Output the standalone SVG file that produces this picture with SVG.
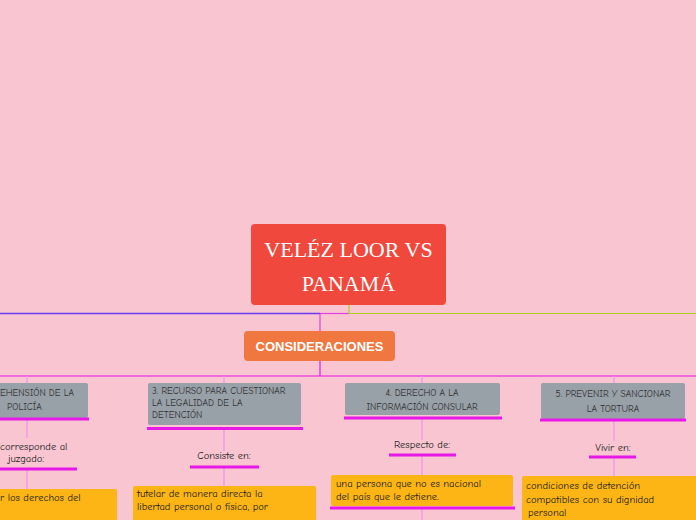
<svg xmlns="http://www.w3.org/2000/svg" width="696" height="520" viewBox="0 0 696 520">
<style>
.g{fill:#98a0a8}
.o{fill:#fdb515}
.t{font-family:"Comic Neue","Liberation Sans",sans-serif;font-size:9.5px;fill:#333}
.s{font-family:"Comic Neue","Liberation Sans",sans-serif;font-size:10.5px;fill:#222}
.u{stroke:#e619e6;stroke-width:3;fill:none}
.c{stroke:#f090f0;stroke-width:1.2;fill:none}
</style>
<rect width="696" height="520" fill="#f9c5d1"/>
<g id="connectors" fill="none">
<path d="M0 313.5H320" stroke="#6a3cf0" stroke-width="1.5"/>
<path d="M320 313.5H349" stroke="#e040e0" stroke-width="1.2"/>
<path d="M349 305V313.5H696" stroke="#a8d020" stroke-width="1.2"/>
<path d="M320 313.5V331" stroke="#e040e0" stroke-width="1.2"/>
<path d="M320 361V376M0 376H696" stroke="#e619e6" stroke-width="1.2"/>
<path class="c" d="M27 376V383M224 376V383M422 376V383M614 376V383"/>
<path class="c" d="M27 419V438M27 469V489M224 429V451M224 467V486M422 418V440M422 455V475M422 508V520M614 420V441M614 457V476"/>
</g>
<g id="title">
<rect x="251" y="224" width="195" height="81" rx="4" fill="#f0483c"/>
<text x="348.5" y="257" text-anchor="middle" font-family="Liberation Serif,serif" font-size="22" fill="#fff">VELÉZ LOOR VS</text>
<text x="348.5" y="291" text-anchor="middle" font-family="Liberation Serif,serif" font-size="22" fill="#fff">PANAMÁ</text>
</g>
<g id="consideraciones">
<rect x="244" y="331" width="151" height="30" rx="4" fill="#f07840"/>
<text x="319.5" y="351" text-anchor="middle" font-family="Liberation Sans,sans-serif" font-weight="bold" font-size="13" fill="#fff">CONSIDERACIONES</text>
</g>
<g id="n2">
<rect class="g" x="-10" y="383" width="98" height="35" rx="2"/>
<text class="t" x="0" y="396">EHENSIÓN DE LA</text>
<text class="t" x="7" y="410">POLICÍA</text>
<path class="u" d="M0 419H89"/>
<text class="s" x="0" y="450">corresponde al</text>
<text class="s" x="8" y="462">juzgado:</text>
<path class="u" d="M0 469H77"/>
<rect class="o" x="-10" y="489" width="127" height="40" rx="2"/>
<text class="s" x="0" y="501">r los derechos del</text>
</g>
<g id="n3">
<rect class="g" x="148" y="383" width="153" height="42" rx="2"/>
<text class="t" x="152" y="394" font-size="8.5">3. RECURSO PARA CUESTIONAR</text>
<text class="t" x="152" y="406" font-size="8.5">LA LEGALIDAD DE LA</text>
<text class="t" x="152" y="418" font-size="8.5">DETENCIÓN</text>
<path class="u" d="M147 428.5H303"/>
<text class="s" x="224" y="459" text-anchor="middle">Consiste en:</text>
<path class="u" d="M190 467H259"/>
<rect class="o" x="133" y="486" width="183" height="40" rx="2"/>
<text class="s" x="137" y="497">tutelar de manera directa  la</text>
<text class="s" x="137" y="510">libertad personal o física, por</text>
</g>
<g id="n4">
<rect class="g" x="345" y="383" width="155" height="32" rx="2"/>
<text class="t" x="422" y="396" text-anchor="middle">4. DERECHO A LA</text>
<text class="t" x="422" y="410" text-anchor="middle">INFORMACIÓN CONSULAR</text>
<path class="u" d="M344 418H502"/>
<text class="s" x="422" y="448" text-anchor="middle" font-size="9">Respecto de:</text>
<path class="u" d="M389 455H456"/>
<rect class="o" x="331" y="475" width="182" height="31" rx="2"/>
<text class="s" x="336" y="487">una persona que no es nacional</text>
<text class="s" x="336" y="500">del país que le detiene.</text>
<path class="u" d="M330 508H515"/>
</g>
<g id="n5">
<rect class="g" x="541" y="383" width="144" height="36" rx="2"/>
<text class="t" x="613" y="397" text-anchor="middle">5. PREVENIR Y SANCIONAR</text>
<text class="t" x="613" y="412" text-anchor="middle">LA TORTURA</text>
<path class="u" d="M540 420H686"/>
<text class="s" x="613" y="451" text-anchor="middle" font-size="9">Vivir en:</text>
<path class="u" d="M589 457H636"/>
<rect class="o" x="522" y="476" width="184" height="50" rx="2"/>
<text class="s" x="526" y="489">condiciones de detención</text>
<text class="s" x="526" y="503">compatibles con su dignidad</text>
<text class="s" x="528" y="516">personal</text>
</g>
</svg>
